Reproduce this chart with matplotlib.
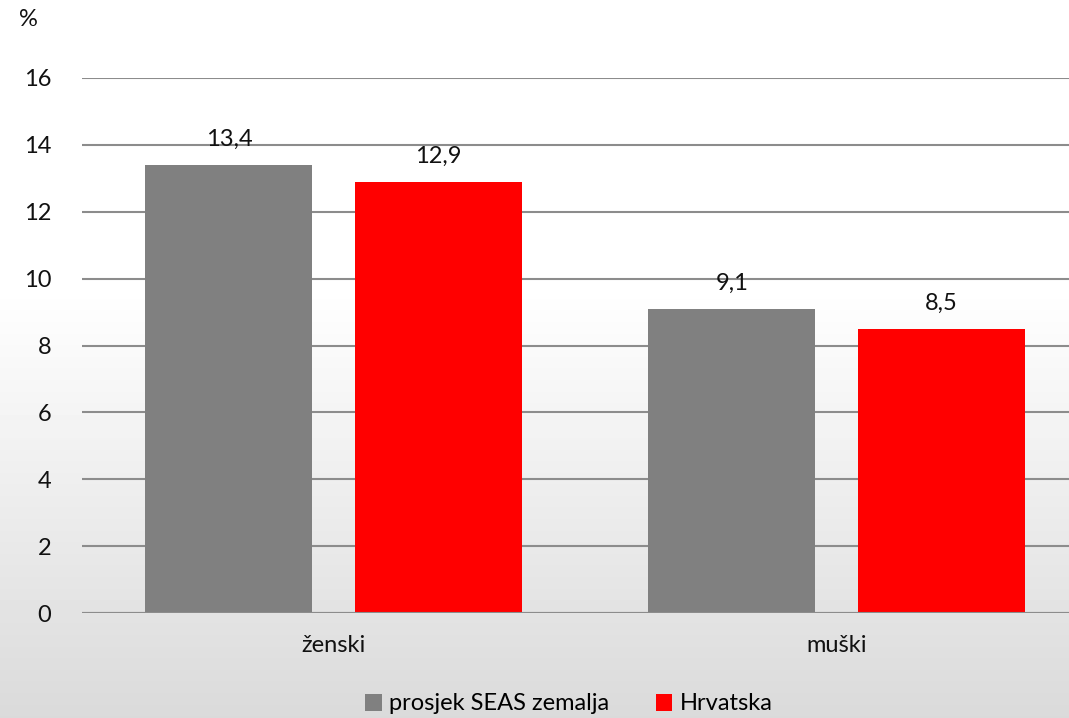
import numpy as np
import matplotlib.pyplot as plt

plt.rcParams['font.family'] = ['Lato', 'DejaVu Sans']

# podaci
categories = ['ženski', 'muški']
series_names = ['prosjek SEAS zemalja', 'Hrvatska']
seas_values = [13.4, 9.1]
hr_values = [12.9, 8.5]
y_ticks = [0, 2, 4, 6, 8, 10, 12, 14, 16]

colors = ['#808080', '#ff0000']
FS = 17

fig = plt.figure(figsize=(10.69, 7.18), dpi=100)

# pozadina s gradijentom (bijelo gore, svijetlo sivo dolje)
bg = fig.add_axes([0, 0, 1, 1], zorder=-10)
rows = 718
t = np.linspace(0, 1, rows)
shade = np.where(t < 0.4, 1.0, 1.0 - (t - 0.4) / 0.6 * 0.145)
bg.imshow(np.repeat(shade[:, None], 2, axis=1), cmap='gray', vmin=0, vmax=1,
          aspect='auto', extent=[0, 1, 0, 1])
bg.axis('off')

ax = fig.add_axes([82 / 1069, 1 - 613 / 718, 1006 / 1069, 535 / 718])
ax.set_facecolor('none')

x = np.arange(len(categories))
w = 0.332
off = 0.2078
b1 = ax.bar(x - off, seas_values, w, color=colors[0], label=series_names[0], zorder=3)
b2 = ax.bar(x + off, hr_values, w, color=colors[1], label=series_names[1], zorder=3)

for bars, vals in [(b1, seas_values), (b2, hr_values)]:
    for r, v in zip(bars, vals):
        ax.text(r.get_x() + r.get_width() / 2, v + 0.45, f"{v:.1f}".replace('.', ','),
                ha='center', va='bottom', fontsize=FS, color='#111111', zorder=4)

ax.set_ylim(0, 16)
ax.set_xlim(-0.5, 1.5)
ax.set_yticks(y_ticks)
ax.set_xticks(x)
ax.set_xticklabels(categories)
ax.tick_params(axis='both', length=0, labelsize=FS, colors='#111111')
ax.tick_params(axis='y', pad=22)
ax.tick_params(axis='x', pad=16)
ax.yaxis.grid(True, color='#8c8c8c', linewidth=1.5, zorder=0)
for s in ax.spines.values():
    s.set_visible(False)
ax.axhline(0, color='#8c8c8c', linewidth=1.5, zorder=4)

fig.text(28 / 1069, 1 - 20 / 718, '%', fontsize=FS, ha='center', va='center', color='#111111')

fig.legend(loc='center', bbox_to_anchor=(0.532, 1 - 704 / 718), ncol=2, frameon=False,
           fontsize=FS, handlelength=0.7, handleheight=0.7, handletextpad=0.3,
           columnspacing=2.0)

fig.savefig('out.png', dpi=100)
